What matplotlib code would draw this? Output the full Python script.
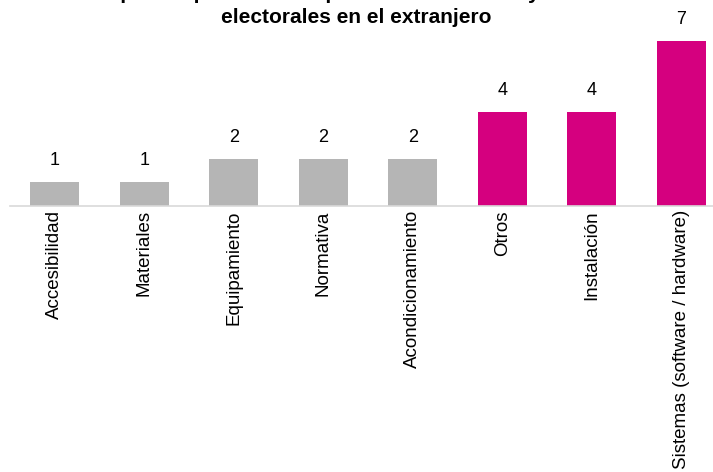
import matplotlib.pyplot as plt

plt.rcParams['font.family'] = ['Liberation Sans', 'DejaVu Sans']

# problemas reportados por categoria
categorias = ['Accesibilidad', 'Materiales', 'Equipamiento', 'Normativa',
              'Acondicionamiento', 'Otros', 'Instalación',
              'Sistemas (software / hardware)']
valores = [1, 1, 2, 2, 2, 4, 4, 7]
colores = ['#B5B5B5'] * 5 + ['#D5007F'] * 3
titulo = ['Tipos de problemas reportados en locales y mesas',
          'electorales en el extranjero']

fig = plt.figure(figsize=(7.13, 4.72), dpi=100)
W, H = 713, 472
# axes placed in pixel terms, right side runs past the figure edge
ax = fig.add_axes([10 / W, 1 - 206 / H, 716 / W, 189 / H])

x = range(len(categorias))
ax.bar(x, valores, width=0.55, color=colores)
for i, v in zip(x, valores):
    ax.text(i, v + 0.55, str(v), ha='center', va='bottom', fontsize=13)

ax.set_xlim(-0.5, 7.5)
ax.set_ylim(0, 8)
ax.set_xticks(list(x))
ax.set_xticklabels(categorias, rotation=90, fontsize=13.5)
ax.tick_params(axis='x', length=0, pad=3)
ax.set_yticks([])
for s in ['top', 'right', 'left']:
    ax.spines[s].set_visible(False)
ax.spines['bottom'].set_color('#D9D9D9')
ax.spines['bottom'].set_linewidth(1.2)

# first title line sits mostly above the canvas, as in the original
fig.text(0.5, 1 + 1 / H, titulo[0], ha='center', va='baseline',
         fontsize=15, fontweight='bold')
fig.text(0.5, 1 - 23 / H, titulo[1], ha='center', va='baseline',
         fontsize=15, fontweight='bold')

fig.savefig('out.png', dpi=100)
